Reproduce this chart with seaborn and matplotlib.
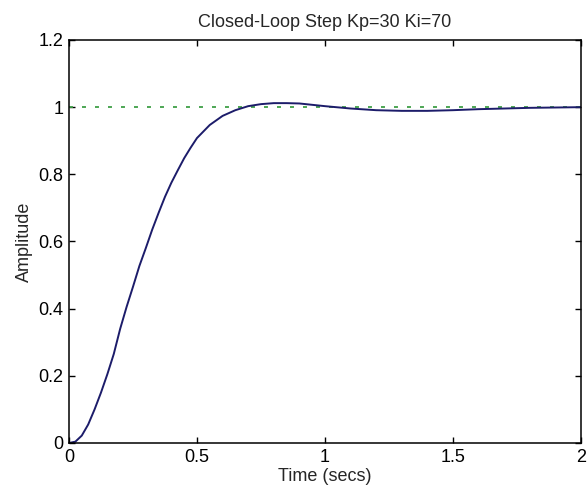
import matplotlib
matplotlib.use("Agg")
import matplotlib.pyplot as plt
import seaborn as sns
import pandas as pd

# ---- data ----
time_s = [0.0, 0.025, 0.05, 0.075, 0.10, 0.125, 0.15, 0.175, 0.20, 0.225,
          0.25, 0.275, 0.30, 0.325, 0.35, 0.375, 0.40, 0.425, 0.45, 0.475,
          0.50, 0.55, 0.60, 0.65, 0.70, 0.75, 0.80, 0.85, 0.90, 0.95,
          1.00, 1.10, 1.20, 1.30, 1.40, 1.50, 1.60, 1.70, 1.80, 1.90, 2.00]
amplitude = [0.0, 0.004, 0.022, 0.055, 0.10, 0.15, 0.205, 0.265, 0.34, 0.405,
             0.465, 0.527, 0.58, 0.635, 0.685, 0.733, 0.775, 0.812, 0.848, 0.879,
             0.908, 0.947, 0.974, 0.991, 1.003, 1.009, 1.012, 1.012, 1.011, 1.007,
             1.003, 0.996, 0.991, 0.989, 0.989, 0.991, 0.994, 0.996, 0.998, 0.999, 1.0]
ref_time = [0.0, 2.0]
ref_value = [1.0, 1.0]

x_ticks = [0, 0.5, 1, 1.5, 2]
x_ticklabels = ["0", "0.5", "1", "1.5", "2"]
y_ticks = [0, 0.2, 0.4, 0.6, 0.8, 1.0, 1.2]
y_ticklabels = ["0", "0.2", "0.4", "0.6", "0.8", "1", "1.2"]

title = "Closed-Loop Step Kp=30 Ki=70"
xlabel = "Time (secs)"
ylabel = "Amplitude"

# ---- style ----
sns.set_style("white")
plt.rcParams["font.family"] = ["Liberation Sans", "DejaVu Sans"]
plt.rcParams["font.size"] = 13

fig = plt.figure(figsize=(5.88, 4.92), dpi=100)
ax = fig.add_axes([0.1173, 0.0996, 0.8707, 0.8191])

df = pd.DataFrame({"t": time_s, "y": amplitude})
ref = pd.DataFrame({"t": ref_time, "y": ref_value})

sns.lineplot(data=ref, x="t", y="y", ax=ax, color="#3f9f46",
             linewidth=1.3, linestyle=(0, (2.2, 5.0)))
sns.lineplot(data=df, x="t", y="y", ax=ax, color="#1c1c6a", linewidth=1.4)

ax.set_xlim(0, 2)
ax.set_ylim(0, 1.2)
ax.set_xticks(x_ticks)
ax.set_xticklabels(x_ticklabels)
ax.set_yticks(y_ticks)
ax.set_yticklabels(y_ticklabels)

ax.tick_params(axis="both", direction="in", length=4, width=1, color="black",
               top=True, right=True, bottom=True, left=True,
               labelsize=13, pad=4, labelcolor="black")

for sp in ax.spines.values():
    sp.set_visible(True)
    sp.set_color("black")
    sp.set_linewidth(1.1)

ax.set_title(title, fontsize=13, pad=9)
ax.set_xlabel(xlabel, fontsize=13, labelpad=2)
ax.set_ylabel(ylabel, fontsize=13, labelpad=4)

fig.savefig("out.png", dpi=100)
